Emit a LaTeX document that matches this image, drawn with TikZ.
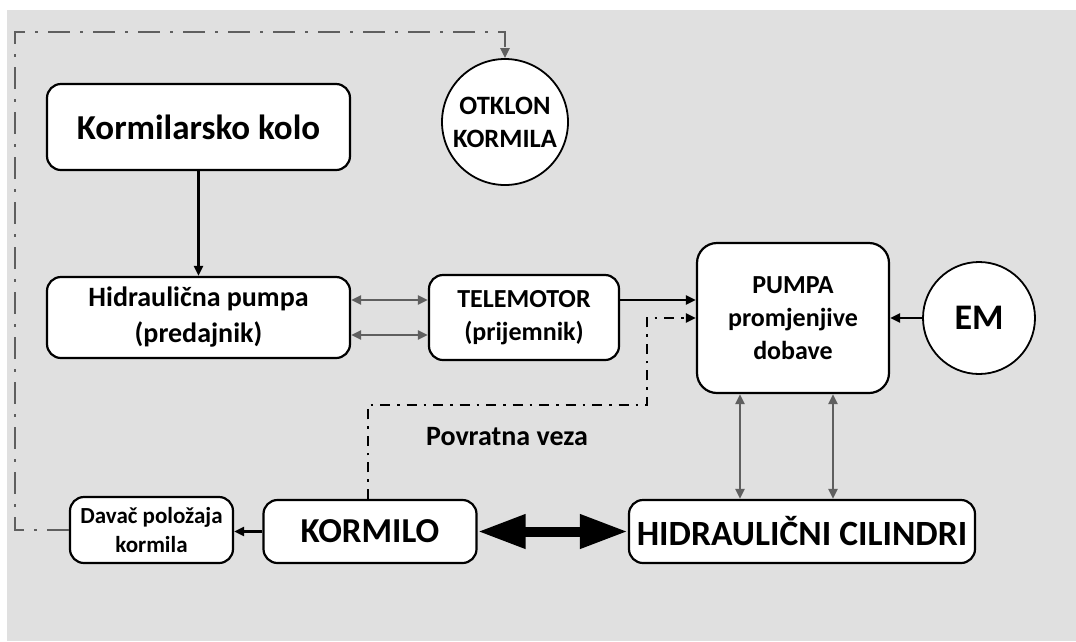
\documentclass[tikz,border=0pt]{standalone}
\usepackage{fontspec}
\setmainfont{Carlito}
\usetikzlibrary{arrows.meta}
\definecolor{bggray}{HTML}{E0E0E0}
\definecolor{lgray}{HTML}{5F5F5F}
\begin{document}
\begin{tikzpicture}[x=1pt,y=-1pt,
  box/.style={draw, line width=2.2pt, rounded corners=14pt, fill=white, align=center, inner sep=0pt, font=\bfseries},
  circ/.style={draw, line width=1.8pt, circle, fill=white, align=center, inner sep=0pt, font=\bfseries},
  arr/.style={line width=2.4pt, -{Triangle[length=10pt,width=9pt]}},
  garr/.style={line width=2.2pt, draw=lgray, {Triangle[length=10pt,width=9pt]}-{Triangle[length=10pt,width=9pt]}},
  fb/.style={line width=2.2pt, dash pattern=on 10pt off 7pt on 2.5pt off 7pt, -{Triangle[length=10pt,width=9pt]}},
  gfb/.style={line width=2.4pt, draw=lgray, dash pattern=on 22pt off 10pt on 3pt off 10pt, -{Triangle[length=10pt,width=9pt]}},
  big/.style={line width=10pt, {Triangle[length=48pt,width=32pt]}-{Triangle[length=48pt,width=32pt]}},
  lbl/.style={font=\bfseries, align=center, inner sep=0pt}
]
\fill[white] (0,0) rectangle (1076,641);
\fill[bggray] (7,10) rectangle (1076,641);
\useasboundingbox (0,0) rectangle (1076,641);

\node[box, minimum width=303pt, minimum height=86pt, font=\bfseries\fontsize{35}{40}\selectfont] (kk) at (198.5,127) {Kormilarsko kolo};
\node[box, minimum width=303pt, minimum height=81pt, font=\bfseries\fontsize{28}{36}\selectfont] (hp) at (198.5,317.5) {Hidraulična pumpa\\(predajnik)};
\node[box, minimum width=190pt, minimum height=85pt, font=\bfseries\fontsize{26}{33}\selectfont] (tm) at (524,317.5) {TELEMOTOR\\(prijemnik)};
\node[box, rounded corners=20pt, minimum width=192pt, minimum height=150pt, font=\bfseries\fontsize{26}{33}\selectfont] (pu) at (793,318) {PUMPA\\promjenjive\\dobave};
\node[circ, minimum size=112pt, font=\bfseries\fontsize{36}{40}\selectfont] (em) at (979,318) {EM};
\node[circ, minimum size=126pt, font=\bfseries\fontsize{26.5}{33}\selectfont] (ot) at (505,122) {OTKLON\\KORMILA};
\node[box, minimum width=163pt, minimum height=66pt, font=\bfseries\fontsize{23}{29}\selectfont] (dv) at (151.5,530) {Davač položaja\\kormila};
\node[box, minimum width=213pt, minimum height=63pt, font=\bfseries\fontsize{35}{40}\selectfont] (ko) at (370,531.5) {KORMILO};
\node[box, minimum width=346pt, minimum height=63pt, font=\bfseries\fontsize{35.5}{40}\selectfont] (hc) at (802,531.5) {HIDRAULIČNI CILINDRI};
\node[lbl, font=\bfseries\fontsize{28}{32}\selectfont] (pv) at (507,437) {Povratna veza};

\draw[arr] (kk) -- (hp);
\draw[garr] ([yshift=17.5pt]hp.east) -- ([yshift=17.5pt]hp.east -| tm.west);
\draw[garr] ([yshift=-17.5pt]hp.east) -- ([yshift=-17.5pt]hp.east -| tm.west);
\draw[arr] ([yshift=17.5pt]tm.east) -- ([yshift=17.5pt]tm.east -| pu.west);
\coordinate (f1) at (647,405);
\draw[fb] ([xshift=-2pt]ko.north) |- (f1) |- (pu.west);
\draw[arr] (em.west) -- (pu.east);
\draw[garr] ([xshift=-53pt]pu.south) -- ([xshift=-53pt]pu.south |- hc.north);
\draw[garr] ([xshift=40pt]pu.south) -- ([xshift=40pt]pu.south |- hc.north);
\draw[arr] (ko.west) -- (ko.west -| dv.east);
\draw[big] (ko.east) -- (hc.west);
\coordinate (c1) at (15,32);
\draw[gfb] (dv.west) -| (c1) -| (ot.north);
\end{tikzpicture}
\end{document}
